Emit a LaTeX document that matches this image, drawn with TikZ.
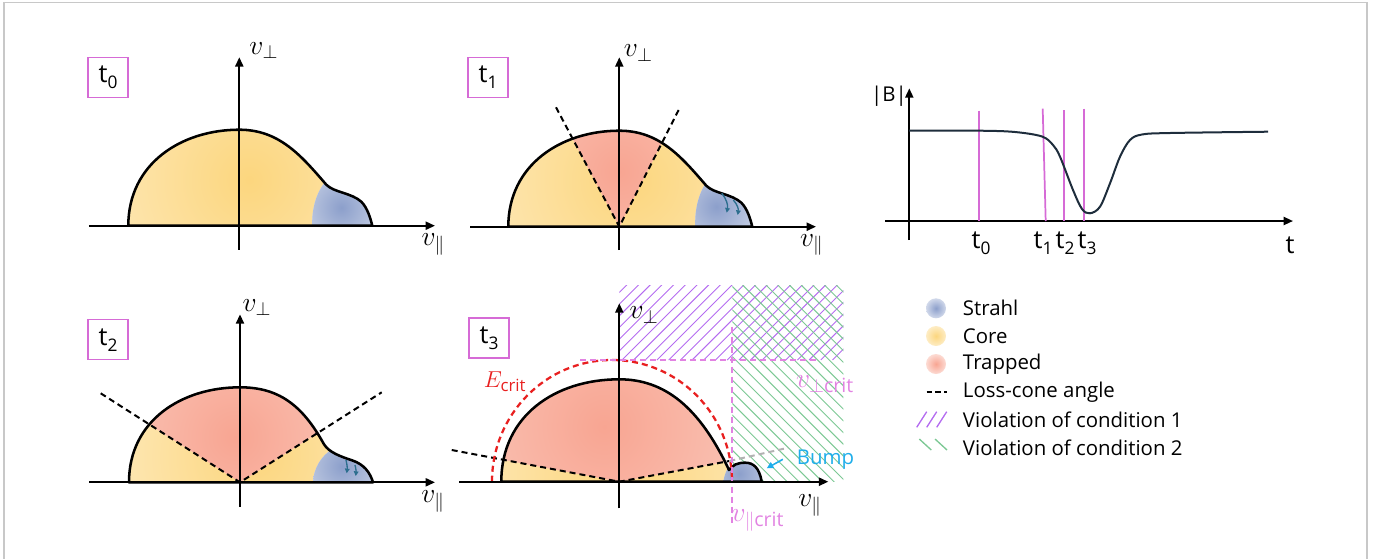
\documentclass[tikz,border=0pt]{standalone}
\usepackage{amsmath}
\usepackage{fontspec}
\setmainfont{Open Sans}
\usepackage{tikz}
\usetikzlibrary{positioning,arrows.meta}
\definecolor{coreC}{HTML}{FCD67E}
\definecolor{coreL}{HTML}{FEF3DA}
\definecolor{trapC}{HTML}{F8A592}
\definecolor{trapL}{HTML}{FBD5CA}
\definecolor{strahlC}{HTML}{8C9FCB}
\definecolor{strahlL}{HTML}{DDE3EF}
\definecolor{tmark}{HTML}{D66BD6}
\definecolor{critpink}{HTML}{E283E2}
\definecolor{violA}{HTML}{B46CF0}
\definecolor{violB}{HTML}{7CC894}
\definecolor{ecrit}{HTML}{E82020}
\definecolor{bumpcyan}{HTML}{1FAEEA}
\definecolor{arrteal}{HTML}{2C6E8E}
\definecolor{curveB}{HTML}{1E2D3C}
\definecolor{framegray}{HTML}{C8C8C8}
\newcommand{\tsub}[1]{t\raisebox{-0.45ex}{\fontsize{13}{13}\selectfont #1}}
% outlines of the distributions (local axes, y up)
\newcommand{\blobA}{(-111,0) .. controls (-111,62) and (-58,96) .. (0,96)
  .. controls (40,96) and (62,70) .. (87,41) .. controls (95,33) and (112,33) .. (122,24)
  .. controls (128,18) and (131,8) .. (133,0) -- cycle}
\newcommand{\blobB}{(-111,0) .. controls (-111,62) and (-58,95) .. (0,95)
  .. controls (38,95) and (62,78) .. (84,38) .. controls (89,30) and (100,26) .. (112,22)
  .. controls (124,18) and (130,10) .. (133,0) -- cycle}
\newcommand{\blobC}{(-118,0) .. controls (-118,66) and (-64,102.4) .. (0,102.4)
  .. controls (45,102.4) and (80,75) .. (109.7,11.7) .. controls (114,17) and (118,19) .. (126,19)
  .. controls (134,19) and (140,14) .. (142.4,0) -- cycle}

\begin{document}
\begin{tikzpicture}[x=0.75pt, y=-0.75pt,
  font=\fontsize{15.3}{18}\selectfont,
  outl/.style={line width=1.9pt, line join=round},
  axis/.style={line width=1.5pt, -{Triangle[length=7pt,width=6pt]}},
  lossc/.style={line width=1.5pt, dash pattern=on 4.5pt off 3pt},
  tbox/.style={draw=tmark, line width=1.1pt, minimum width=30pt,
               minimum height=30pt, inner sep=0pt, font=\fontsize{19}{20}\selectfont},
  vlab/.style={font=\fontsize{21}{22}\selectfont},
  tlab/.style={font=\fontsize{19}{20}\selectfont},
  leg/.style={anchor=west, inner sep=0pt},
  legdot/.style={circle, minimum size=15pt, inner sep=0pt, shade},
  tline/.style={draw=tmark, line width=1.3pt},
  critdash/.style={draw=critpink, line width=1.4pt, dash pattern=on 4.5pt off 3pt},
  hatchA/.style={draw=violA, line width=0.7pt},
  hatchB/.style={draw=violB, line width=0.7pt},
  swirl/.style={draw=arrteal, line width=1pt, -{Triangle[length=3.5pt,width=3.5pt]}},
  ]
  \useasboundingbox (0,0) rectangle (1377,558);
  \draw[framegray, line width=0.8pt] (4,560) |- (1367,2.3) -- (1367,560);

  % ---- t0 ----
  \node[tbox] (box0) at (108,77.5) {\tsub{0}};
  \begin{scope}[shift={(239.3,225.7)}, yscale=-1]
    \begin{scope}
      \clip \blobA;
      \fill[coreL] (-150,-5) rectangle (160,130);
      \shade[inner color=coreC, outer color=coreL] (10,46) circle (260);
      \clip (88,46) .. controls (78,36) and (72,18) .. (73,-1) -- (150,-1) -- (150,60) -- cycle;
      \fill[strahlL] (60,-5) rectangle (160,80);
      \shade[inner color=strahlC, outer color=strahlL] (102,18) circle (60);
    \end{scope}
    \draw[outl] \blobA;
    \draw[axis] (-150.5,0) -- (195.7,0);
    \draw[axis] (0,-24) -- (0,168.5);
    \node[vlab] (vperp0) at (24.5,175) {$v_{\perp}$};
    \node[vlab] (vpar0) at (194,-19) {$v_{\parallel}$};
  \end{scope}

  % ---- t1 ----
  \node[tbox] (box1) at (488,77.5) {\tsub{1}};
  \begin{scope}[shift={(619.3,226.7)}, yscale=-1]
    \begin{scope}
      \clip \blobA;
      \fill[coreL] (-150,-5) rectangle (160,130);
      \shade[inner color=coreC, outer color=coreL] (10,46) circle (260);
      \begin{scope}
        \clip (0,0) -- (-127,239) -- (121,239) -- cycle;
        \fill[trapL] (-150,-5) rectangle (160,130);
        \shade[inner color=trapC, outer color=trapL] (0,55) circle (200);
      \end{scope}
      \clip (89,47) .. controls (80,36) and (75,18) .. (76,-1) -- (150,-1) -- (150,60) -- cycle;
      \fill[strahlL] (60,-5) rectangle (160,80);
      \shade[inner color=strahlC, outer color=strahlL] (97,20) circle (60);
    \end{scope}
    \draw[outl] \blobA;
    \draw[lossc] (-63.3,119.4) -- (0,0) -- (60.7,119.4);
    \draw[swirl] (102.4,33.4) to[bend right=25] (107.4,14);
    \draw[swirl] (114,26.7) to[bend right=25] (118.4,11.7);
    \draw[axis] (-149.3,0) -- (196.7,0);
    \draw[axis] (0,-23.5) -- (0,169.4);
    \node[vlab] (vperp1) at (19,173.7) {$v_{\perp}$};
    \node[vlab] (vpar1) at (192.4,-18.3) {$v_{\parallel}$};
  \end{scope}

  % ---- t2 ----
  \node[tbox] (box2) at (108,339.7) {\tsub{2}};
  \begin{scope}[shift={(240,482.3)}, yscale=-1]
    \begin{scope}
      \clip \blobB;
      \fill[coreL] (-150,-5) rectangle (160,130);
      \shade[inner color=coreC, outer color=coreL] (15,25) circle (240);
      \begin{scope}
        \clip (0,0) -- (-209,133.5) -- (-209,200) -- (213,200) -- (213,135) -- cycle;
        \fill[trapL] (-150,-5) rectangle (160,130);
        \shade[inner color=trapC, outer color=trapL] (-5,45) circle (200);
      \end{scope}
      \clip (92,33) .. controls (82,27) and (73,14) .. (73,-1) -- (150,-1) -- (150,50) -- cycle;
      \fill[strahlL] (60,-5) rectangle (160,80);
      \shade[inner color=strahlC, outer color=strahlL] (102,16) circle (60);
    \end{scope}
    \draw[outl] \blobB;
    \draw[lossc] (-139.3,89) -- (0,0) -- (141.7,90);
    \draw[swirl] (106,22.3) to[bend right=10] (106.7,9);
    \draw[swirl] (115,17.3) to[bend right=10] (115.7,6.3);
    \draw[axis] (-151,0) -- (195,0);
    \draw[axis] (0,-24.4) -- (0,168);
    \node[vlab] (vperp2) at (17,175) {$v_{\perp}$};
    \node[vlab] (vpar2) at (193,-19.4) {$v_{\parallel}$};
  \end{scope}

  % ---- t3 ----
  \node[tbox] (box3) at (489,338) {\tsub{3}};
  \begin{scope}
    \clip (619.3,285) rectangle (843.3,360);
    \foreach \i in {0,...,26} \draw[hatchA] ({540+\i*11.7},360) -- ++(80,-80);
  \end{scope}
  \begin{scope}
    \clip (732.3,285) rectangle (843.3,481);
    \foreach \i in {0,...,27} \draw[hatchB] ({532+\i*11.7},285) -- ++(200,200);
  \end{scope}
  \begin{scope}[shift={(619.3,481.7)}, yscale=-1]
    \begin{scope}
      \clip \blobC;
      \fill[coreL] (-150,-5) rectangle (160,130);
      \shade[inner color=coreC, outer color=coreL] (0,10) circle (260);
      \begin{scope}
        \clip (0,0) -- (-250,47.3) -- (-250,200) -- (250,200) -- (250,47) -- cycle;
        \fill[trapL] (-150,-5) rectangle (160,130);
        \shade[inner color=trapC, outer color=trapL] (-15,55) circle (240);
      \end{scope}
      \clip (104,-1) .. controls (105,8) and (108,13) .. (111,17) -- (150,25) -- (150,-1) -- cycle;
      \fill[strahlL] (90,-5) rectangle (160,40);
      \shade[inner color=strahlC, outer color=strahlL] (120,8) circle (50);
    \end{scope}
    \draw[outl] \blobC;
    \draw[lossc] (-167.6,31.7) -- (0,0) -- (110,20.7);
    \draw[lossc, draw=gray!60] (110,20.7) -- (169,34);
    \draw[ecrit, line width=1.7pt, dash pattern=on 4.5pt off 3pt]
      (-127.3,0) .. controls (-127.3,67.2) and (-73.6,121.7) .. (-7.3,121.7)
      .. controls (59,121.7) and (112.7,67.2) .. (112.7,0);
  \end{scope}
  \draw[critdash] (580,360) -- (816.7,360);
  \draw[critdash] (732.3,326.7) -- (732.3,526.7);
  \draw[axis] (459.3,481.7) -- (828.3,481.7);
  \draw[axis] (619.3,508.3) -- (619.3,303.3);
  \node[vlab] (vperp3) at (644,315) {$v_{\perp}$};
  \node[vlab] (vpar3) at (810,505) {$v_{\parallel}$};
  \node[ecrit, font=\fontsize{18}{20}\selectfont] (ecritlab) at (505,382) {$E_{\text{crit}}$};
  \node[critpink, vlab] (vperpcrit) at (825,384) {$v_{\perp\text{crit}}$};
  \node[critpink, vlab] (vparcrit) at (758,520) {$v_{\parallel\text{crit}}$};
  \node[bumpcyan, font=\fontsize{15.3}{18}\selectfont] (bump) at (825.5,459.3) {Bump};
  \coordinate (bumptip) at (766.7,468.3);
  \draw[bumpcyan, line width=1.2pt, -{Triangle[length=5pt,width=5pt]}]
    ([xshift=-7pt]bump.west) -- (bumptip);

  % ---- |B| versus t ----
  \draw[axis] (885,221) -- (1293,221);
  \draw[axis] (909.3,240) -- (909.3,88.3);
  \node (blab) at (889,96.5) {|B|};
  \node[tlab] (taxis) at (1290,245) {t};
  \draw[tline] (979.3,110.7) -- (979.3,221);
  \draw[tline] (1042.7,108.7) -- (1045.7,221);
  \draw[tline] (1064.3,110) -- (1064.3,221);
  \draw[tline] (1084.3,108.7) -- (1084.3,221);
  \draw[curveB, line width=1.5pt] plot[smooth, tension=0.55] coordinates {(909,130.7) (980,130.7)
    (1015,132) (1042,136.5) (1053,145) (1060,156.7) (1073,190) (1082,209) (1090,213.3)
    (1100,206.7) (1110,183.3) (1120,156.7) (1130,140) (1142,134.5) (1170,133) (1268,131.7)};
  \node[tlab] (lt0) at (981,243) {\tsub{0}};
  \node[tlab] (lt1) at (1043,243) {\tsub{1}};
  \node[tlab] (lt2) at (1065,243) {\tsub{2}};
  \node[tlab] (lt3) at (1087,243) {\tsub{3}};

  % ---- legend ----
  \node[legdot, inner color=strahlC, outer color=strahlC!40] (dstrahl) at (936,308.3) {};
  \node[legdot, inner color=coreC, outer color=coreC!45] (dcore) at (936,336) {};
  \node[legdot, inner color=trapC, outer color=trapC!40] (dtrap) at (936,364) {};
  \node[leg] (lstrahl) at (962.7,308.3) {Strahl};
  \node[leg] (lcore) at (962.7,336) {Core};
  \node[leg] (ltrap) at (962.7,364) {Trapped};
  \node[leg] (lloss) at (962.7,391.7) {Loss-cone angle};
  \node[leg] (lviol1) at (962.7,420) {Violation of condition 1};
  \node[leg] (lviol2) at (962.7,448) {Violation of condition 2};
  \draw[line width=1.2pt, dash pattern=on 4pt off 2.5pt] (926.7,391.7) -- (946.7,391.7);
  \foreach \x in {916.7,926.7,936.7} \draw[hatchA, line width=1pt] (\x,427.3) -- ++(10,-15.6);
  \foreach \x in {919.3,935} \draw[hatchB, line width=1pt] (\x,439) -- ++(12,11);
\end{tikzpicture}
\end{document}
